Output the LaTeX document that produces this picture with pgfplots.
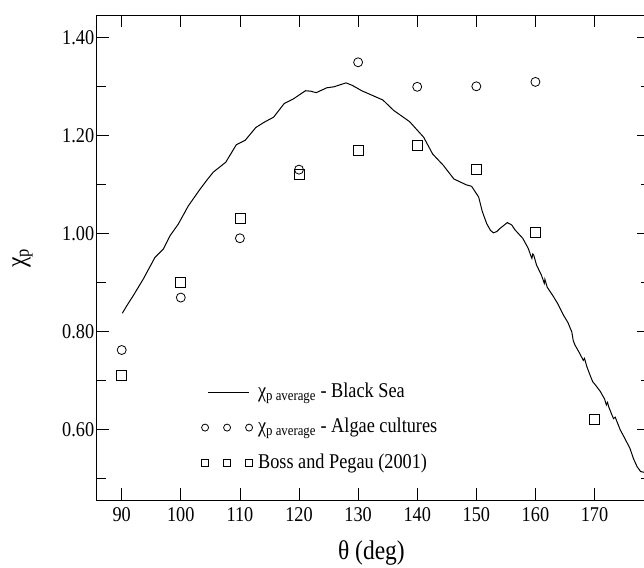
\documentclass[border=0pt]{standalone}
\usepackage{fontspec}
\setmainfont{Liberation Serif}[FakeStretch=0.87]
\usepackage{pgfplots}
\pgfplotsset{compat=1.18}
\pgfplotsset{
  lineleg/.style={legend image code/.code={\path[draw=none,fill=none] (-4pt,-4pt) rectangle (48pt,4pt); \draw[##1] (3pt,0pt) -- (44pt,0pt);}},
  markleg/.style={legend image code/.code={\path[draw=none,fill=none] (-4pt,-4pt) rectangle (48pt,4pt); \draw[##1, mark size=3.5pt] plot coordinates {(0pt,0pt) (22pt,0pt) (44pt,0pt)};}},
}
\begin{document}
\begin{tikzpicture}
\path[use as bounding box] (-96.7pt,-67pt) rectangle (547.3pt,500pt);
\begin{axis}[
  at={(0pt,0pt)}, anchor=south west, scale only axis,
  width=552.8pt, height=485pt,
  xmin=85.77, xmax=179.3, ymin=0.456, ymax=1.4455,
  xtick={90,100,...,170},
  ytick={0.6,0.8,1.0,1.2,1.4},
  minor ytick={0.5,0.7,0.9,1.1,1.3},
  /pgf/number format/assume math mode=true,
  tick align=inside,
  major tick length=12.5pt, minor tick length=9pt,
  every tick/.append style={black, line width=0.8pt},
  axis line style={line width=0.8pt},
  ticklabel style={font=\fontsize{21}{24}\selectfont},
  xticklabel style={yshift=-4pt},
  yticklabel style={xshift=1pt, /pgf/number format/.cd, fixed, fixed zerofill, precision=2},
  label style={font=\fontsize{27}{30}\selectfont},
  xlabel={θ (deg)},
  ylabel={χ\textsubscript{p}},
  xlabel style={at={(axis description cs:0.497,-0.109)}, anchor=center},
  ylabel style={at={(axis description cs:-0.134,0.499)}, anchor=center},
  legend style={at={(axis cs:103.43,0.6037)}, anchor=west, draw=none, fill=none,
    inner sep=0pt, outer sep=0pt, row sep=15.5pt, column sep=5pt,
    nodes={inner sep=0pt, outer sep=0pt, font=\fontsize{21}{24}\selectfont, text height=15pt, text depth=5pt}},
  legend cell align=left,
]
\addplot[black, line width=1pt, lineleg]
  table {
90.1 0.837
91.0 0.855
91.96 0.873
93.66 0.907
95.63 0.951
97.04 0.968
98.17 0.995
99.58 1.019
101.27 1.056
103.25 1.090
104.5 1.110
105.5 1.125
107.6 1.145
109.4 1.181
110.9 1.190
112.7 1.216
114.0 1.226
115.7 1.237
117.5 1.265
119.0 1.274
121.1 1.291
122.0 1.290
122.9 1.287
124.7 1.297
125.9 1.299
127.96 1.307
129.0 1.302
130.6 1.291
132.5 1.281
134.2 1.272
136.0 1.251
138.7 1.228
141.1 1.196
142.6 1.162
144.4 1.139
146.2 1.111
148.3 1.099
149.2 1.096
150.4 1.074
151.0 1.045
151.75 1.020
152.4 1.006
152.9 1.001
153.5 1.004
154.0 1.010
155.25 1.022
156.0 1.017
156.55 1.007
157.85 0.990
158.8 0.969
159.2 0.955
159.4 0.949
159.55 0.958
159.7 0.956
160.2 0.935
161.0 0.915
161.3 0.905
161.5 0.898
161.6 0.906
162.0 0.890
163.05 0.871
163.8 0.856
164.75 0.833
165.5 0.818
166.15 0.799
166.4 0.781
166.7 0.772
167.4 0.757
168.1 0.741
168.3 0.745
168.7 0.728
169.2 0.712
169.7 0.697
170.2 0.690
171.0 0.677
171.7 0.662
172.0 0.650
172.2 0.655
172.4 0.646
173.2 0.622
173.5 0.625
174.35 0.599
175.2 0.580
176.0 0.561
176.6 0.540
177.2 0.524
177.8 0.514
178.6 0.512
179.3 0.512
};
\addlegendentry{χ\textsubscript{p average} - Black Sea}
\addplot[black, only marks, mark=o, mark size=4.5pt, mark options={line width=0.8pt}, markleg]
  coordinates {(90,0.762) (100,0.869) (110,0.990) (120,1.130) (130,1.349) (140,1.299) (150,1.300) (160,1.309)};
\addlegendentry{χ\textsubscript{p average} - Algae cultures}
\addplot[black, only marks, mark=square, mark size=5pt, mark options={line width=0.8pt}, markleg]
  coordinates {(90,0.711) (100,0.900) (110,1.030) (120,1.120) (130,1.170) (140,1.180) (150,1.130) (160,1.001) (170,0.620)};
\addlegendentry{Boss and Pegau (2001)}
\end{axis}
\end{tikzpicture}
\end{document}
